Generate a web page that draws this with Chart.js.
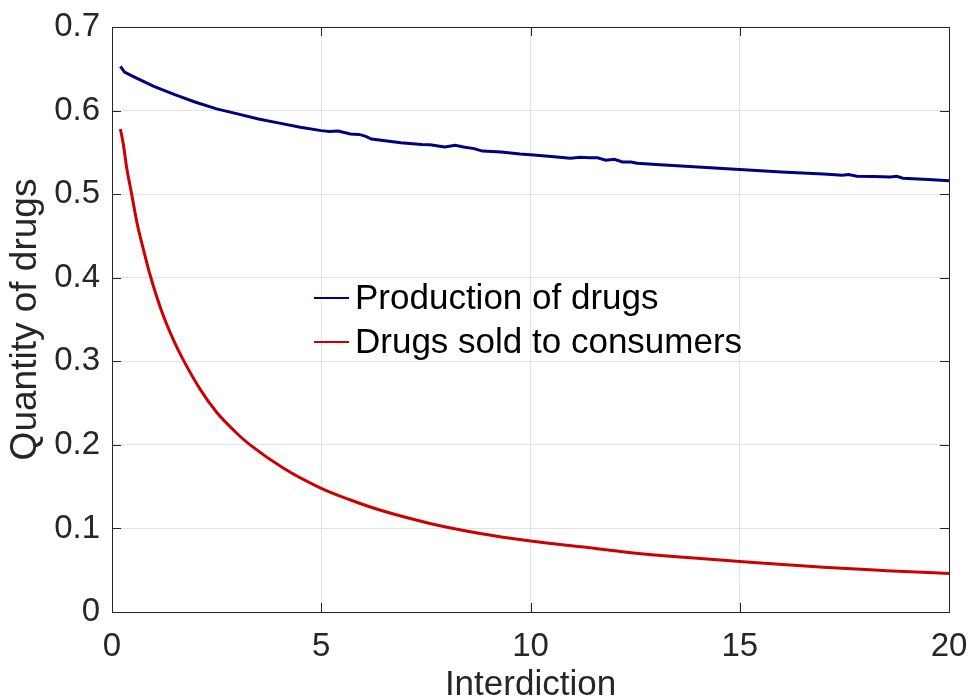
<!DOCTYPE html>
<html>
<head>
<meta charset="utf-8">
<script src="https://cdn.jsdelivr.net/npm/chart.js@4.4.1/dist/chart.umd.min.js"></script>
<style>
  html, body { margin: 0; padding: 0; background: #fff; }
  #wrap { width: 971px; height: 700px; }
</style>
</head>
<body>
<div id="wrap"><canvas id="myChart" width="971" height="700"></canvas></div>
<script>
// values
const productionX = [0.2, 0.3, 0.5, 1, 1.5, 2, 2.5, 3, 3.5, 4, 4.5, 5, 5.2, 5.4, 5.7, 5.9, 6.05, 6.2, 6.9, 7.4, 7.6, 7.95, 8.2, 8.4, 8.65, 8.85, 9.3, 9.75, 10, 10.5, 10.95, 11.2, 11.4, 11.6, 11.8, 12.0, 12.2, 12.4, 12.55, 13, 14, 15, 16, 17, 17.45, 17.6, 17.8, 18.2, 18.6, 18.75, 18.9, 19.5, 20];
const productionY = [0.653, 0.646, 0.641, 0.629, 0.619, 0.610, 0.602, 0.596, 0.590, 0.585, 0.580, 0.576, 0.575, 0.5755, 0.572, 0.5715, 0.5695, 0.566, 0.5615, 0.5595, 0.559, 0.5565, 0.5585, 0.5565, 0.5545, 0.5515, 0.5505, 0.548, 0.547, 0.545, 0.543, 0.544, 0.5435, 0.5435, 0.5405, 0.5418, 0.5385, 0.5385, 0.537, 0.5355, 0.5325, 0.5295, 0.5265, 0.524, 0.5225, 0.5235, 0.5215, 0.521, 0.5205, 0.5213, 0.519, 0.5175, 0.516];

const soldX = [0.2, 0.27, 0.35, 0.47, 0.6, 0.75, 0.9, 1.2, 1.5, 1.7, 2.1, 2.5, 3.0, 3.3, 4.1, 5.0, 5.7, 6.4, 7.6, 8.8, 10, 11.2, 12.4, 13.5, 15, 17, 18.5, 20];
const soldY = [0.578, 0.56, 0.532, 0.50, 0.465, 0.434, 0.405, 0.358, 0.322, 0.302, 0.267, 0.239, 0.213, 0.20, 0.172, 0.148, 0.134, 0.122, 0.106, 0.094, 0.085, 0.078, 0.071, 0.066, 0.0605, 0.0535, 0.0495, 0.046];

const seriesLabels = ['Production of drugs', 'Drugs sold to consumers'];
const xTicks = [0, 5, 10, 15, 20];
const yTicks = [0, 0.1, 0.2, 0.3, 0.4, 0.5, 0.6, 0.7];

const FONT = '"Liberation Sans", Arial, Helvetica, sans-serif';
const AXIS_COLOR = '#262626';

const toPoints = (xs, ys) => xs.map((x, i) => ({ x: x, y: ys[i] }));

// box around the axes with ticks pointing inward (matlab style)
const boxPlugin = {
    id: 'boxPlugin',
    afterDatasetsDraw(chart) {
        const { ctx, chartArea: a, scales } = chart;
        ctx.save();
        ctx.strokeStyle = AXIS_COLOR;
        ctx.lineWidth = 1;
        ctx.strokeRect(Math.round(a.left) + 0.5, Math.round(a.top) + 0.5,
            Math.round(a.right - a.left), Math.round(a.bottom - a.top));
        const len = 9;
        ctx.beginPath();
        xTicks.forEach(v => {
            const px = Math.round(scales.x.getPixelForValue(v)) + 0.5;
            ctx.moveTo(px, a.bottom); ctx.lineTo(px, a.bottom - len);
            ctx.moveTo(px, a.top); ctx.lineTo(px, a.top + len);
        });
        yTicks.forEach(v => {
            const py = Math.round(scales.y.getPixelForValue(v)) + 0.5;
            ctx.moveTo(a.left, py); ctx.lineTo(a.left + len, py);
            ctx.moveTo(a.right, py); ctx.lineTo(a.right - len, py);
        });
        ctx.stroke();
        ctx.restore();
    }
};

// legend sitting inside the plot, like the reference
const innerLegend = {
    id: 'innerLegend',
    afterDraw(chart) {
        const { ctx } = chart;
        const x0 = 314, x1 = 349, tx = 355;
        const rows = [298, 342];
        ctx.save();
        ctx.font = '35px ' + FONT;
        ctx.textBaseline = 'middle';
        ctx.textAlign = 'left';
        chart.data.datasets.forEach((ds, i) => {
            ctx.strokeStyle = ds.borderColor;
            ctx.lineWidth = 2;
            ctx.beginPath();
            ctx.moveTo(x0, rows[i]); ctx.lineTo(x1, rows[i]);
            ctx.stroke();
            ctx.fillStyle = '#000';
            ctx.fillText(ds.label, tx, rows[i] + 1);
        });
        ctx.restore();
    }
};

const ctx = document.getElementById('myChart');
const myChart = new Chart(ctx, {
    type: 'line',
    data: {
        datasets: [{
            label: seriesLabels[0],
            data: toPoints(productionX, productionY),
            borderColor: '#000080',
            borderWidth: 3,
            pointRadius: 0,
            tension: 0,
            fill: false
        }, {
            label: seriesLabels[1],
            data: toPoints(soldX, soldY),
            borderColor: '#cc0000',
            borderWidth: 3,
            pointRadius: 0,
            cubicInterpolationMode: 'monotone',
            fill: false
        }]
    },
    options: {
        responsive: false,
        animation: false,
        layout: { padding: { left: 0, top: 27, right: 22, bottom: 0 } },
        plugins: {
            legend: { display: false },
            tooltip: { enabled: false }
        },
        scales: {
            x: {
                type: 'linear',
                min: 0,
                max: 20,
                afterBuildTicks: s => { s.ticks = xTicks.map(v => ({ value: v })); },
                afterFit: s => { s.height = 88; s.paddingLeft = 0; s.paddingRight = 0; },
                grid: { color: '#e3e3e3', drawTicks: false },
                border: { display: false },
                ticks: {
                    padding: 15,
                    color: AXIS_COLOR,
                    font: { family: FONT, size: 33 },
                    maxRotation: 0
                },
                title: {
                    display: true,
                    text: 'Interdiction',
                    color: AXIS_COLOR,
                    font: { family: FONT, size: 35 },
                    padding: { top: 0, bottom: -6 }
                }
            },
            y: {
                min: 0,
                max: 0.7,
                afterBuildTicks: s => { s.ticks = yTicks.map(v => ({ value: v })); },
                afterFit: s => { s.width = 112; s.paddingTop = 0; s.paddingBottom = 0; },
                grid: { color: '#e3e3e3', drawTicks: false },
                border: { display: false },
                ticks: {
                    padding: 12,
                    color: AXIS_COLOR,
                    font: { family: FONT, size: 33 },
                    callback: v => (Math.round(v * 10) / 10).toString()
                },
                title: {
                    display: true,
                    text: 'Quantity of drugs',
                    color: AXIS_COLOR,
                    font: { family: FONT, size: 37 },
                    padding: { top: 4, bottom: 0 }
                }
            }
        }
    },
    plugins: [boxPlugin, innerLegend]
});
</script>
</body>
</html>
